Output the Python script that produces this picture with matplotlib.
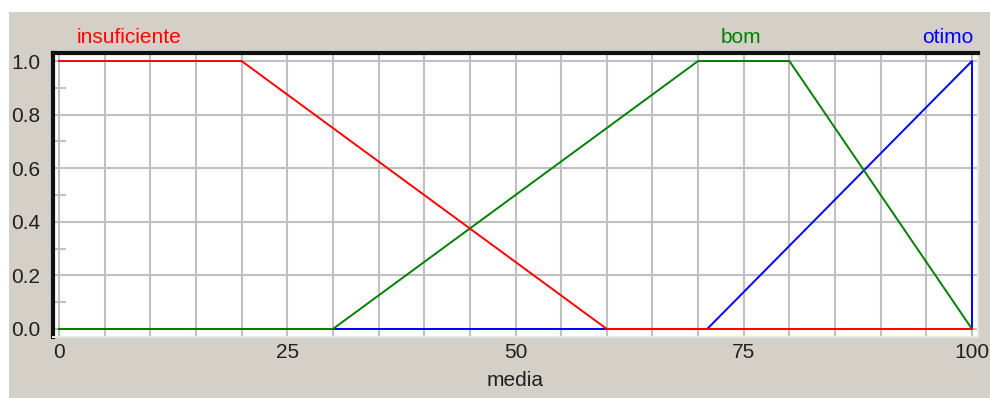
import matplotlib

matplotlib.use("Agg")
import matplotlib.pyplot as plt
from matplotlib.ticker import MultipleLocator, FuncFormatter

# membership functions for "media"
insuficiente_x = [0, 20, 60, 100]
insuficiente_y = [1, 1, 0, 0]
bom_x = [0, 30, 70, 80, 100]
bom_y = [0, 0, 1, 1, 0]
otimo_x = [0, 71, 100, 100]
otimo_y = [0, 0, 1, 0]

label_names = ["insuficiente", "bom", "otimo"]
label_pos = [7.7, 74.7, 100.1]
label_align = ["center", "center", "right"]
x_ticks_labeled = [0, 25, 50, 75, 100]

panel = "#d4d0c8"
grid_col = "#c0c0c0"

plt.rcParams["font.family"] = ["Liberation Sans", "DejaVu Sans"]

fig = plt.figure(figsize=(9.9, 3.98), dpi=100)
fig.patch.set_facecolor("white")
# gray dialog panel behind the chart
fig.patches.append(plt.Rectangle((9 / 990, 0), 981 / 990, 386 / 398,
                                 transform=fig.transFigure, facecolor=panel,
                                 edgecolor="none", zorder=-10))

ax = fig.add_axes([53 / 990, 1 - 337 / 398, 925 / 990, 284 / 398])
ax.set_zorder(5)
ax.set_facecolor("white")

ax.plot(otimo_x, otimo_y, color="#0000ff", lw=1.4, zorder=3)
ax.plot(bom_x, bom_y, color="#008000", lw=1.4, zorder=4)
ax.plot(insuficiente_x, insuficiente_y, color="#ff0000", lw=1.4, zorder=5)

ax.set_xlim(-0.66, 100.66)
ax.set_ylim(-0.03, 1.03)

ax.xaxis.set_major_locator(MultipleLocator(5))
ax.xaxis.set_major_formatter(FuncFormatter(
    lambda v, p: f"{int(round(v))}" if int(round(v)) in x_ticks_labeled else ""))
ax.yaxis.set_major_locator(MultipleLocator(0.2))
ax.yaxis.set_minor_locator(MultipleLocator(0.1))
ax.yaxis.set_major_formatter(FuncFormatter(lambda v, p: f"{v:.1f}"))

ax.grid(True, which="major", color=grid_col, lw=1.5, zorder=1)
ax.tick_params(axis="x", which="major", length=0, labelsize=15,
               colors="#202020", pad=4)
ax.tick_params(axis="y", which="major", length=0, labelsize=15,
               colors="#202020", pad=9)
ax.tick_params(axis="y", which="minor", direction="in", length=9,
               width=1.5, color=grid_col)

for side in ("left", "top"):
    ax.spines[side].set_color("#101010")
    ax.spines[side].set_linewidth(3)
for side in ("right", "bottom"):
    ax.spines[side].set_color("#e8e8e8")
    ax.spines[side].set_linewidth(1.5)

ax.set_xlabel("media", fontsize=15, color="#202020", labelpad=7)

colors = ["#ff0000", "#008000", "#0000ff"]
for name, xpos, ha, col in zip(label_names, label_pos, label_align, colors):
    ax.text(xpos, 1.056, name, color=col, fontsize=15, ha=ha, va="center",
            transform=ax.get_xaxis_transform())

fig.savefig("out.png", dpi=100, facecolor=fig.get_facecolor())
